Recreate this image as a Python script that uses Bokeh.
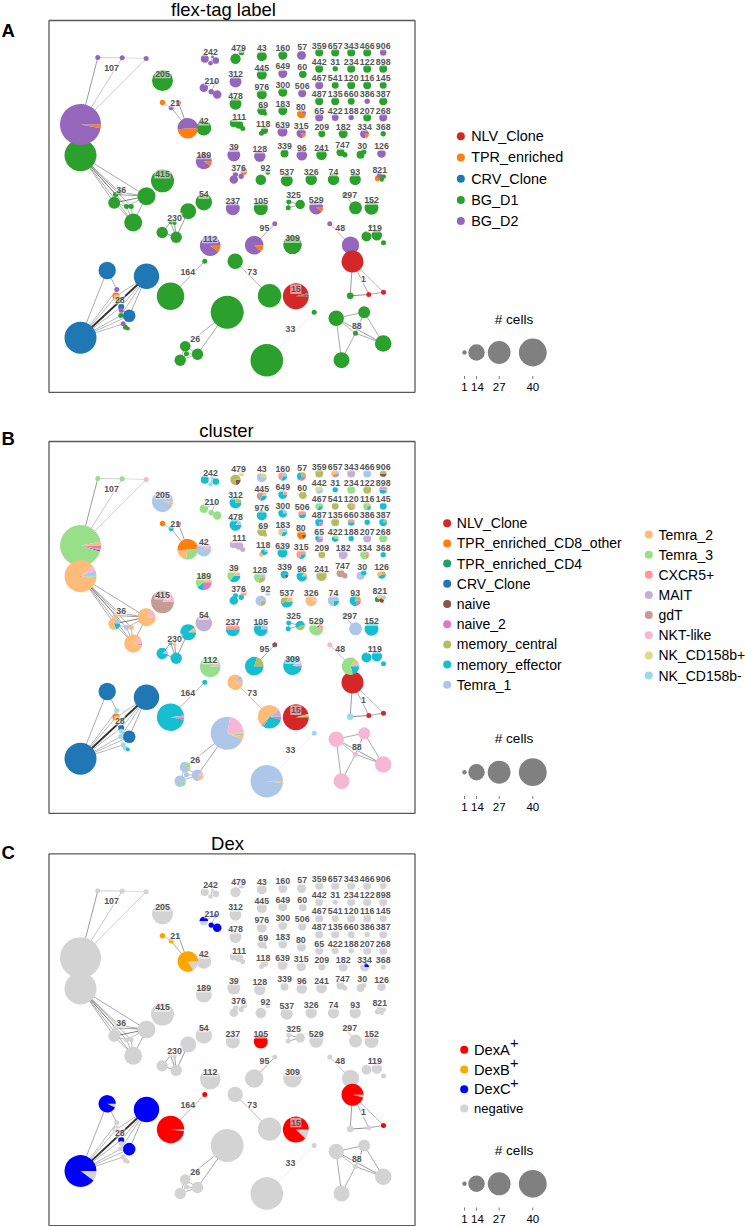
import math
from bokeh.plotting import figure
from bokeh.layouts import column
from bokeh.models import Range1d
from bokeh.core.properties import value
from bokeh.embed import file_html
from bokeh.resources import INLINE

FONT = "Liberation Sans"

# ---- category palettes -------------------------------------------------
flex_names = ["NLV_Clone", "TPR_enriched", "CRV_Clone", "BG_D1", "BG_D2"]
flex_keys = ["R", "O", "B", "G", "P"]
flex_colors = ["#d62728", "#ff7f0e", "#1f77b4", "#2ca02c", "#9467bd"]

cluster_names = ["NLV_Clone", "TPR_enriched_CD8_other", "TPR_enriched_CD4", "CRV_Clone",
                 "naive", "naive_2", "memory_central", "memory_effector", "Temra_1",
                 "Temra_2", "Temra_3", "CXCR5+", "MAIT", "gdT", "NKT-like",
                 "NK_CD158b+", "NK_CD158b-"]
cluster_keys = ["NLV", "TPo", "TP4", "CRV", "nv", "nv2", "mc", "me", "T1",
                "T2", "T3", "CX", "MA", "gd", "NK", "Cp", "Cm"]
cluster_colors = ["#d62728", "#ff7f0e", "#279e68", "#1f77b4", "#8c564b", "#e377c2", "#b5bd61",
                  "#17becf", "#aec7e8", "#ffbb78", "#98df8a", "#ff9896", "#c5b0d5", "#c49c94",
                  "#f7b6d2", "#dbdb8d", "#9edae5"]

dex_names = ["DexA", "DexB", "DexC", "negative"]
dex_keys = ["A", "B", "C", "neg"]
dex_colors = ["#ff0000", "#ffa500", "#0000ff", "#d3d3d3"]

# ---- clonotype nodes: layout position, cells, composition --------------
node_names = [
    "359", "657", "343", "466", "906",
    "442", "31", "234", "122", "898",
    "467", "541", "120", "116", "145",
    "487", "135", "660", "386", "387",
    "65", "422", "188", "207", "268",
    "479", "479b", "43", "160", "57",
    "445", "649", "60", "976", "300", "506",
    "312", "478", "69", "69b", "183", "80",
    "111a", "111b", "111c", "118", "118b", "639", "315", "209", "182", "334", "368",
    "39", "128", "339", "96", "241", "747", "747b", "30", "30b", "126",
    "189", "376a", "376b", "376c", "376d", "92", "92b", "537", "326", "74", "93",
    "821a", "821b", "821c", "821d",
    "54", "237", "105", "325a", "325b", "325c", "529", "297a", "297b", "152",
    "242a", "242b", "242c", "242d", "210a", "210b", "210c", "210d",
    "107", "107a", "107b", "107c", "205",
    "21a", "21b", "21c", "21", "42", "415",
    "36big", "36a", "36b", "36c", "36d", "36e", "36f", "36g",
    "230a", "230b", "230c", "230d", "230e", "112",
    "164a", "164b",
    "28a", "28b", "28c", "28d", "28e", "28f", "28g", "28h", "28i", "28j", "28k", "28l", "28m",
    "26", "26a", "26b", "26c", "26d",
    "73a", "73b", "95a", "95b", "309", "48a", "48b",
    "119a", "119b", "119c", "119d",
    "1a", "1b", "1c", "1d", "15", "33a", "33b",
    "88a", "88b", "88c", "88d", "88e",
]
node_x = [
    318.7, 334.7, 350.7, 366.7, 382.7,
    318.7, 334.7, 350.7, 366.7, 382.7,
    318.7, 334.7, 350.7, 366.7, 382.7,
    318.7, 334.7, 350.7, 366.7, 382.7,
    318.7, 334.7, 350.7, 366.7, 382.7,
    235, 241, 261.3, 282.3, 301,
    261.3, 282.3, 302.3, 261.3, 282.3, 301.7,
    235, 235, 261.3, 264.7, 282.3, 301,
    233.3, 238.7, 242.3, 264, 261, 282, 300.7, 321.3, 342.7, 364, 382.7,
    233.3, 259.3, 284, 301.3, 321, 340, 344.3, 360, 363.3, 381,
    203.3, 233.3, 235, 240.7, 243.3, 260.3, 267.3, 286.3, 310.7, 333, 354.7,
    377, 379, 381.3, 383.3,
    203.3, 232.3, 260.3, 288.3, 287.7, 299.7, 315.7, 344, 355, 371,
    204.3, 210, 215.3, 212, 203.3, 210.7, 216.7, 215,
    80, 97.3, 121.7, 145.7, 162,
    162, 170.7, 178, 187.3, 203.3, 162,
    80, 146, 113.7, 132.7, 126, 130.7, 119, 115,
    187.7, 161.7, 175.7, 174, 170, 209.7,
    170, 204.3,
    80, 106.7, 146, 128.7, 116.3, 115.7, 118, 120.7, 120.7, 120.3, 122.7, 125, 127.3,
    226.7, 184.7, 197, 179.7, 186,
    234.7, 269, 253.7, 274.3, 292, 350, 329.3,
    366, 376.3, 383, 370,
    352, 349.7, 368.3, 383, 295.3, 266.3, 313.7,
    335.7, 363.7, 382.7, 341, 355,
]
node_y = [
    52, 52, 52, 52, 52,
    68.3, 68.3, 68.3, 68.3, 68.3,
    84.7, 84.7, 84.7, 84.7, 84.7,
    100.7, 100.7, 100.7, 100.7, 100.7,
    117, 117, 117, 117, 117,
    58.3, 51.7, 55.7, 54.7, 54.7,
    74.3, 73, 73.7, 94, 91.7, 92.7,
    81, 103.3, 110, 113.3, 110.3, 113.3,
    122.7, 124.3, 128, 130, 132.7, 131.3, 132.7, 133.3, 133.3, 133.3, 133.3,
    154.3, 155.7, 153, 154.7, 154.3, 151.7, 154.3, 154.3, 151.3, 153,
    160.7, 179, 174, 175.7, 171, 179.3, 171.7, 180, 179, 179, 179,
    178, 175, 179, 176,
    201.7, 207.7, 207.7, 201.3, 207.3, 204, 207, 194.3, 207.3, 207.3,
    58.3, 62.7, 60, 56, 87.3, 91.3, 94, 82,
    124, 57, 57.3, 58, 80,
    102, 107.3, 102.3, 127.7, 127.5, 180.3,
    154.7, 195.7, 202.3, 222, 206, 206, 191.7, 194,
    210.7, 232, 236.7, 222.3, 221.7, 245.3,
    295.7, 260.7,
    337.3, 270, 275.7, 315.3, 289, 295.7, 299, 306.3, 309.7, 315, 323.3, 326.7, 328,
    311.7, 345.7, 353.7, 359.7, 353.3,
    260.7, 295.3, 244.7, 223.3, 244.3, 244.7, 223.3,
    236, 234.7, 242.3, 226,
    261, 295.3, 294, 291.7, 295.7, 359.7, 311.7,
    317.7, 311.7, 343, 359.7, 332.7,
]
node_cells = [
    3.3, 3.3, 3.3, 3.3, 2.3,
    3.3, 1.5, 3.3, 3.3, 3.3,
    3.3, 2.5, 3.3, 3.3, 2.5,
    3.3, 3.3, 2.5, 1.5, 3.3,
    3.3, 2.5, 1.5, 3.3, 3.3,
    5.6, 1.9, 5.2, 4.2, 4.2,
    5.2, 4.2, 3, 5.2, 4.2, 3.3,
    7.4, 7.4, 4.2, 0.8, 4.2, 4.2,
    3.3, 3.3, 1.3, 2.5, 1.3, 5.2, 4.6, 2.5, 4.2, 4.2, 1.5,
    8.7, 6.7, 3.3, 5.8, 5.8, 3.3, 1.5, 3.3, 1.5, 3.8,
    13.2, 3.8, 1.3, 1.5, 2.3, 5.8, 1.3, 7.4, 6.7, 6.7, 6.7,
    1.5, 1.5, 1, 1,
    14.2, 10.1, 10.1, 1.3, 1.3, 4.6, 10.1, 1.3, 8.7, 10.1,
    3.3, 1.1, 2.3, 0.5, 3.8, 1.5, 3.8, 0.8,
    86.8, 1.3, 1.3, 1.3, 22.8,
    1.5, 1.3, 1.3, 21.9, 11.6, 27.3,
    52.9, 16.7, 7.4, 16.7, 1.3, 1.3, 1.3, 1.3,
    13.2, 6.7, 6.7, 1, 0.8, 21.9,
    38.8, 1.3,
    52.9, 15.6, 33.3, 8.2, 1.3, 2.8, 1.3, 1.9, 1.3, 1.3, 1.3, 1.3, 0.8,
    56.3, 5.8, 6.7, 6.7, 1.3,
    12.3, 28.3, 17.9, 1.3, 17.9, 15.6, 1.3,
    5.2, 5.8, 1.3, 0.8,
    25, 2.3, 1.3, 1.3, 34.9, 54.9, 1.3,
    12.3, 7.4, 14.2, 13.2, 1.3,
]
flex_mix = [
    "G", "G", "G", "G", "P",
    "G", "G", "G", "G", "G",
    "P", "G", "G", "G", "G",
    "G", "G", "G", "P", "G",
    "P", "P", "P", "G", "P",
    "G", "G", "G", "G", "P",
    "G", "P", "G", "G", "G", "P",
    "P", "G", "G", "G", "G", "O:.8 P:.2",
    "G", "G", "G", "G", "G", "P", "O:.2 P:.8", "G", "G", "O:.2 P:.8", "G",
    "P", "P", "G", "P", "G", "G", "G", "G", "G", "P",
    "O:.1 P:.9", "P", "P", "P", "O:.4 P:.6", "G", "G", "G", "G", "G", "G",
    "O", "P", "G", "G",
    "G", "P", "G", "G", "G", "G", "O:.1 P:.9", "G", "G", "G",
    "P", "P", "P", "P", "P", "P", "P", "P",
    "O:.03 P:.97", "P", "P", "P", "G",
    "O", "P", "R", "O:.48 P:.52", "G", "G",
    "G", "G", "G", "G", "G", "G", "G", "G",
    "G", "G", "G", "G", "G", "O:.1 P:.9",
    "G", "G",
    "B", "B", "B", "B", "P", "O", "G", "B", "P", "G", "P", "G", "G",
    "G", "G", "G", "G", "G",
    "G", "G", "O:.12 P:.88", "P", "G", "P", "P",
    "G", "G", "G", "G",
    "R", "G", "R", "R", "R:.96 P:.02 G:.02", "G", "G",
    "G", "G", "G", "G", "G",
]
cluster_mix = [
    "mc", "gd:.4 T2:.4 T1:.2", "MA", "T1", "nv:.5 mc:.5",
    "T1:.4 Cp:.6", "me", "T3", "mc", "T3:.05 me:.45 CX:.5",
    "me:.35 T3:.65", "mc", "mc:.8 CX:.2", "me:.25 T3:.5 T2:.25", "me",
    "nv2:.25 me:.75", "mc", "me:.5 CX:.5", "me", "me:.8 mc:.2",
    "nv2:.4 me:.3 T1:.3", "me:.6 T3:.4", "me", "MA", "T3",
    "nv:.25 mc:.75", "Cp", "T1:.75 Cp:.25", "me:.3 CX:.45 T1:.25", "nv2:.3 me:.4 mc:.3",
    "me:.3 gd:.55 T2:.15", "me:.8 CX:.2", "mc", "me", "me:.8 T1:.2", "me:.45 CX:.55",
    "me:.75 mc:.25", "me:.85 T1:.15", "mc", "mc", "me:.3 T2:.3 T1:.4", "nv:.2 TPo:.8",
    "MA", "MA", "MA", "me:.8 T1:.2", "T2", "me", "me:.3 CX:.7", "mc", "MA", "mc:.2 T3:.6 CX:.2", "me",
    "me:.35 T3:.5 T2:.15", "mc:.3 T3:.5 T1:.2", "nv:.2 me:.8", "me:.85 T2:.15", "mc", "gd", "gd", "T1", "me", "me:.4 T2:.4 mc:.2",
    "nv2:.25 me:.15 T3:.45 T2:.15", "me", "me", "me", "CX:.6 T2:.4", "mc:.25 T1:.75", "T1", "me:.45 mc:.35 T2:.2", "T2:.9 NK:.1", "me:.25 T1:.75", "nv2:.2 me:.6 mc:.2",
    "TP4", "Cp", "NLV", "Cm",
    "MA", "me:.5 CX:.5", "me:.8 T1:.2", "me", "me", "mc:.4 me:.6", "T3:.85 NLV:.05 CX:.1", "T1", "T1", "me",
    "me", "Cm", "me", "Cm", "T3", "T3", "T3", "T3",
    "nv2:.03 MA:.01 nv:.01 T3:.92 T2:.03", "T3", "T3", "NK", "T2:.05 T1:.95",
    "TPo", "me", "NLV", "T3:.28 T2:.2 TPo:.52", "T1:.85 NK:.15", "gd:.85 NK:.15",
    "T3:.02 T2:.87 NK:.05 T1:.06", "T2:.85 NK:.15", "me:.2 T2:.6 T1:.2", "gd:.04 T2:.86 NK:.1", "T1", "T2", "T2", "T2",
    "me:.9 T2:.1", "me:.9 T1:.1", "me", "T2", "me", "T3:.92 T2:.04 T1:.04",
    "nv2:.03 me:.95 MA:.02", "me",
    "CRV", "CRV", "CRV", "CRV", "Cm", "TPo", "Cp", "CRV", "Cm", "Cm", "Cm", "Cm", "me",
    "T3:.03 T2:.03 T1:.72 NK:.22", "T2:.1 T1:.7 T3:.2", "T2:.2 T1:.7 NK:.1", "T3:.2 T1:.8", "T1",
    "T2:.85 MA:.08 T1:.07", "nv2:.04 me:.3 gd:.03 T2:.53 MA:.1", "me:.8 mc:.2", "nv", "nv2:.03 me:.87 T1:.1", "me:.2 T3:.65 T2:.1 T1:.05", "NK",
    "me", "me", "me", "Cm",
    "NLV", "Cm", "NLV", "NLV", "NLV:.96 T3:.02 mc:.02", "T2:.02 T1:.98", "Cm",
    "NK", "NK", "NK", "NK", "NK",
]
# every node not listed here is entirely negative
dex_mix = {
    "210a": "neg:.5 C:.5", "210b": "C", "210c": "C", "210d": "C",
    "21a": "B", "21b": "B", "21": "neg:.16 B:.84", "334": "neg:.75 C:.25",
    "105": "A", "164a": "neg:.02 A:.98", "164b": "A", "15": "neg:.12 A:.88",
    "1a": "neg:.04 A:.96", "1d": "A",
    "28a": "neg:.1 C:.9", "28b": "neg:.07 C:.93", "28c": "C", "28d": "C", "28h": "C",
}

# ---- edges: pairs of nodes, with how strongly they are linked ----------
edge_from = [
    "107", "107", "107", "107a", "107b",
    "36big", "36big", "36big", "36big", "36big", "36big", "36big",
    "36a", "36a", "36a", "36a", "36a", "36b", "36b", "36c", "36c", "36f",
    "21", "21", "21a",
    "230a", "230b", "230b", "230c", "230c",
    "164a",
    "28a", "28a", "28a", "28a", "28a", "28a", "28a", "28a", "28b", "28c", "28c", "28c", "28c",
    "26", "26", "26a", "26a", "26b", "26b", "26c",
    "73a", "95a", "48a", "33a", "297a",
    "1a", "1a", "1a", "1b", "1c",
    "88a", "88a", "88a", "88a", "88b", "88b", "88c", "88d",
    "325a", "325a", "325b",
    "242d", "242d", "210d", "210d",
]
edge_to = [
    "107a", "107b", "107c", "107b", "107c",
    "36a", "36b", "36c", "36d", "36e", "36f", "36g",
    "36b", "36c", "36f", "36g", "36d", "36c", "36d", "36d", "36e", "36g",
    "21b", "21c", "21b",
    "230c", "230c", "230e", "230d", "230e",
    "164b",
    "28c", "28b", "28d", "28e", "28f", "28h", "28j", "28k", "28e", "28d", "28f", "28h", "28j",
    "26a", "26b", "26b", "26c", "26c", "26d", "26d",
    "73b", "95b", "48b", "33b", "297b",
    "1b", "1c", "1d", "1c", "1d",
    "88b", "88c", "88d", "88e", "88c", "88e", "88e", "88e",
    "325c", "325b", "325c",
    "242b", "242c", "210b", "210a",
]
edge_weight = [
    .7, .4, .35, .35, .25,
    .6, .6, .6, .6, .6, .6, .6,
    .9, .6, .6, .7, .5, .5, .5, .5, .5, .5,
    .6, .7, .35,
    .7, .7, .7, .7, .7,
    .55,
    1.0, .6, .5, .5, .5, .5, .5, .5, .6, .6, .5, .5, .5,
    .6, .6, .5, .5, .5, .5, .5,
    .5, .6, .5, .12, .5,
    .7, .6, .5, .8, .6,
    .6, .7, .6, .5, .6, .7, .6, .6,
    .6, .5, .6,
    .5, .5, .5, .5,
]

# ---- printed clonotype labels ------------------------------------------
label_text = [
    "359", "657", "343", "466", "906", "442", "31", "234", "122", "898",
    "467", "541", "120", "116", "145", "487", "135", "660", "386", "387",
    "65", "422", "188", "207", "268", "479", "43", "160", "57", "445", "649", "60",
    "976", "300", "506", "312", "478", "69", "183", "80", "111", "118", "639", "315",
    "209", "182", "334", "368", "39", "128", "339", "96", "241", "747", "30", "126",
    "189", "376", "92", "537", "326", "74", "93", "821", "54", "237", "105", "325",
    "529", "297", "152", "242", "210", "107", "205", "21", "42", "415", "36", "230",
    "112", "164", "28", "26", "73", "95", "309", "48", "119", "1", "15", "33", "88",
]
label_x = [
    318.7, 334.7, 350.7, 366.7, 382.7, 318.7, 334.7, 350.7, 366.7, 382.7,
    318.7, 334.7, 350.7, 366.7, 382.7, 318.7, 334.7, 350.7, 366.7, 382.7,
    318.7, 334.7, 350.7, 366.7, 382.7, 238, 261.3, 282.3, 301.7, 261.3, 282.3, 301.7,
    261.3, 282.3, 301.7, 235, 235, 262.7, 282.3, 300.3, 238.7, 262.7, 282, 300.7,
    321.3, 342.7, 364, 382.7, 233.3, 259.3, 284, 301.3, 321, 342, 361.7, 381,
    203.3, 238, 265, 286.3, 310.7, 333, 354.7, 379.3, 203.3, 232.3, 260.3, 293,
    315.7, 349.3, 371, 210, 211.3, 111, 162, 174.7, 203.3, 162, 120.7, 174,
    209.7, 187.3, 119.3, 194.7, 251.7, 264, 292, 339.7, 374.3, 363, 295.3, 290, 356.3,
]
label_y = [
    45, 45, 45, 45, 45, 61, 61, 61, 61, 61,
    77.3, 77.3, 77.3, 77.3, 77.3, 93.3, 93.3, 93.3, 93.3, 93.3,
    110, 110, 110, 110, 110, 47.7, 47.7, 47, 46.3, 67, 65.7, 66,
    86.3, 84.3, 85.3, 73.3, 95.3, 104, 103, 106.3, 116.7, 123.7, 124, 125.3,
    126, 126, 126, 126, 146.7, 148.3, 145, 147, 147, 144.7, 145, 145.7,
    154, 167.3, 167.7, 171.7, 171, 171, 171, 169, 193.7, 200, 200, 194.7,
    199.7, 194, 199.7, 51, 80, 67, 73, 102.3, 120.3, 173.3, 189, 217,
    238, 271, 299, 338, 271, 227, 237.7, 227, 227.3, 278.3, 288.7, 328.7, 325,
]

size_legend_cells = [1, 14, 27, 40]
size_legend_labels = ["1", "14", "27", "40"]

assert len(node_names) == len(node_x) == len(node_y) == len(node_cells) == len(flex_mix) == len(cluster_mix)
assert len(edge_from) == len(edge_to) == len(edge_weight)
assert len(label_text) == len(label_x) == len(label_y)

# ---- drawing -----------------------------------------------------------
R_K = 2.2      # radius = R_K * sqrt(cells)
LABEL_FS = 8.8
index = {n: i for i, n in enumerate(node_names)}


def radius(c):
    return R_K * math.sqrt(c)


def parse(mix):
    parts = []
    for token in mix.split():
        if ":" in token:
            k, f = token.split(":")
            parts.append((k, float(f)))
        else:
            parts.append((token, 1.0))
    return parts


def txt(p, x, y, s, size, color="#000000", align="left", style="normal"):
    p.text([x], [y], text=[s], text_font=value(FONT), text_font_size=f"{size}px",
           text_color=color, text_align=align, text_baseline="middle", text_font_style=style)


def panel(top, bottom, dy, title, title_x, title_y, letter, letter_y, mixes, keys, colors):
    p = figure(width=745, height=bottom - top, x_range=Range1d(0, 745), y_range=Range1d(bottom, top),
               toolbar_location=None, output_backend="svg", x_axis_location=None, y_axis_location=None,
               min_border=0, outline_line_color=None, background_fill_color="white", border_fill_color="white")
    p.grid.visible = False

    # panel frame
    p.quad(left=[48.5], right=[414.5], top=[20 + dy], bottom=[391.8 + dy], fill_color=None,
           line_color="#5a5a5a", line_width=1.3)

    # edges
    p.segment(x0=[node_x[index[a]] for a in edge_from], y0=[node_y[index[a]] + dy for a in edge_from],
              x1=[node_x[index[b]] for b in edge_to], y1=[node_y[index[b]] + dy for b in edge_to],
              line_color="#333333", line_width=[0.7 + (1.2 if w == 1.0 else 0) for w in edge_weight],
              line_alpha=edge_weight)

    # nodes
    color_of = dict(zip(keys, colors))
    cx, cy, cr, cc = [], [], [], []
    wx, wy, wr, ws, we, wc = [], [], [], [], [], []
    for i, m in enumerate(mixes):
        parts = parse(m)
        r = radius(node_cells[i])
        if len(parts) == 1:
            cx.append(node_x[i]); cy.append(node_y[i] + dy); cr.append(r); cc.append(color_of[parts[0][0]])
        else:
            total = sum(f for _, f in parts)
            a = 0.0
            for k, f in parts:
                b = a + f / total
                wx.append(node_x[i]); wy.append(node_y[i] + dy); wr.append(r)
                ws.append(-b * 2 * math.pi); we.append(-a * 2 * math.pi); wc.append(color_of[k])
                a = b
    p.circle(x=cx, y=cy, radius=cr, fill_color=cc, line_color=None)
    p.wedge(x=wx, y=wy, radius=wr, start_angle=ws, end_angle=we, direction="anticlock",
            fill_color=wc, line_color=None)

    # labels with a soft pale backing
    p.rect(x=label_x, y=[v + dy for v in label_y], width=[len(t) * 5 + 1 for t in label_text],
           height=9.5, fill_color="white", fill_alpha=0.55, line_color=None)
    p.text(x=label_x, y=[v + dy for v in label_y], text=label_text, text_font=value(FONT),
           text_font_size=f"{LABEL_FS}px", text_color="#555555", text_align="center",
           text_baseline="middle", text_font_style="bold")

    txt(p, title_x, title_y, title, 18.5, align="center")
    txt(p, 1, letter_y, letter, 18.5, style="bold")
    return p


def size_legend(p, y, head_y, tick_y, label_y):
    xs = [464, 476, 498.7, 532.3]
    p.circle(x=xs, y=[y] * 4, radius=[radius(c) for c in size_legend_cells],
             fill_color="#808080", line_color=None)
    p.segment(x0=xs, y0=[tick_y] * 4, x1=xs, y1=[tick_y + 3] * 4, line_color="#444444", line_width=0.7)
    p.text(x=[x + (1 if t == "14" else 0) for x, t in zip(xs, size_legend_labels)], y=[label_y] * 4,
           text=size_legend_labels, text_font=value(FONT), text_font_size="11.5px", text_color="#000000",
           text_align="center", text_baseline="middle")
    txt(p, 513.5, head_y, "# cells", 13.6, align="center")


# Panel A
pa = panel(0, 420, 0, "flex-tag label", 223, 9, "A", 30, flex_mix, flex_keys, flex_colors)
pa_y = [135.7, 156.9, 178.2, 199.4, 220.6]
pa.circle(x=[460.3] * 5, y=pa_y, radius=4, fill_color=flex_colors, line_color=None)
pa.text(x=[470.7] * 5, y=pa_y, text=flex_names, text_font=value(FONT), text_font_size="14.4px",
        text_color="#000000", text_baseline="middle")
size_legend(pa, 352, 318.7, 375.5, 386)

# Panel B
pb = panel(420, 830, 421, "cluster", 226, 430, "B", 438, cluster_mix, cluster_keys, cluster_colors)
col1 = cluster_names[:9]
col2 = cluster_names[9:]
b1_y = [522.7 + 20.2 * i for i in range(9)]
b2_y = [534 + 20.15 * i for i in range(8)]
pb.circle(x=[446.7] * 9, y=b1_y, radius=4, fill_color=cluster_colors[:9], line_color=None)
pb.text(x=[456.3] * 9, y=b1_y, text=col1, text_font=value(FONT), text_font_size="14px",
        text_color="#000000", text_baseline="middle")
pb.circle(x=[648.3] * 8, y=b2_y, radius=4, fill_color=cluster_colors[9:], line_color=None)
pb.text(x=[658] * 8, y=b2_y, text=col2, text_font=value(FONT), text_font_size="14px",
        text_color="#000000", text_baseline="middle")
size_legend(pb, 771.7, 738.3, 795.5, 806)

# Panel C
pc_mix = [dex_mix.get(n, "neg") for n in node_names]
pc = panel(830, 1226, 833.3, "Dex", 227, 842.5, "C", 852, pc_mix, dex_keys, dex_colors)
c_y = [1049.3, 1069, 1088.7, 1108]
pc.circle(x=[463.7] * 4, y=c_y, radius=4, fill_color=dex_colors, line_color=None)
for name, yy in zip(dex_names, c_y):
    if name == "negative":
        txt(pc, 473.5, yy, name, 13)
    else:
        txt(pc, 473.5, yy, name, 14.7)
        txt(pc, 509.5, yy - 6.5, "+", 14.7)
size_legend(pc, 1183.3, 1150, 1207, 1218)

layout = column(pa, pb, pc, spacing=0)
open("out.html", "w").write(file_html(layout, INLINE))
